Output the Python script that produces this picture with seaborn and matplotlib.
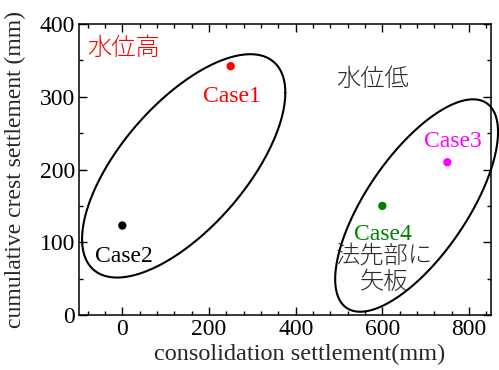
import numpy as np
import pandas as pd
import matplotlib
matplotlib.use("Agg")
import matplotlib.pyplot as plt
from matplotlib.ticker import MultipleLocator
import seaborn as sns

# Settlement results per case
cases = ["Case1", "Case2", "Case3", "Case4"]
consolidation = [250, 0, 750, 600]        # consolidation settlement (mm)
crest = [342, 123, 210, 150]              # cumulative crest settlement (mm)
case_colors = ["#ff0000", "#000000", "#ff00ff", "#008000"]

# Label positions (data units, baseline) for each case name
label_x = [253, 4, 762, 602]
label_y = [293, 73, 231, 103]

# Group outlines: centre, half-extent in x and y, and x-y coupling term
groups_center = [(141.6, 205.0), (679.0, 150.5)]
groups_extent = [(234.5, 153.5), (187.9, 146.0)]
groups_coupling = [23600.0, 19000.0]

sns.set_theme(style="ticks")
plt.rcParams["font.family"] = ["Liberation Serif", "Noto Sans CJK JP"]
plt.rcParams["xtick.direction"] = "in"
plt.rcParams["ytick.direction"] = "in"
plt.rcParams["xtick.top"] = True
plt.rcParams["ytick.right"] = True

df = pd.DataFrame({"case": cases, "x": consolidation, "y": crest})

fig = plt.figure(figsize=(4.99, 3.70), dpi=100)
ax = fig.add_axes([0.1583, 0.1486, 0.9834 - 0.1583, 0.9351 - 0.1486])

sns.scatterplot(data=df, x="x", y="y", hue="case", palette=case_colors,
                s=36, edgecolor="none", legend=False, ax=ax, zorder=3)

# Group outlines
t = np.linspace(0, 2 * np.pi, 400)
for (cx, cy), (rx, ry), c in zip(groups_center, groups_extent, groups_coupling):
    a21 = c / rx
    a22 = np.sqrt(ry ** 2 - a21 ** 2)
    ex = cx + rx * np.cos(t)
    ey = cy + a21 * np.cos(t) + a22 * np.sin(t)
    ax.plot(ex, ey, color="black", lw=1.5, clip_on=False, zorder=2)

for name, lx, ly, col in zip(cases, label_x, label_y, case_colors):
    ax.text(lx, ly, name, color=col, fontsize=17, ha="center", va="baseline")

jp_font = ["Noto Sans CJK JP", "Liberation Serif"]
jp_kw = dict(fontsize=17.5, va="center", family=jp_font, fontweight="light")
ax.text(-81, 367, "水位高", color="#ff0000", ha="left", **jp_kw)
ax.text(578, 324, "水位低", color="#2a2a2a", ha="center", **jp_kw)
ax.text(605, 80, "法先部に", color="#2a2a2a", ha="center", **jp_kw)
ax.text(603, 45, "矢板", color="#2a2a2a", ha="center", **jp_kw)

ax.set_xlim(-100, 850)
ax.set_ylim(0, 400)
ax.xaxis.set_major_locator(MultipleLocator(200))
ax.xaxis.set_minor_locator(MultipleLocator(40))
ax.yaxis.set_major_locator(MultipleLocator(100))
ax.yaxis.set_minor_locator(MultipleLocator(50))
ax.tick_params(which="major", length=5.5, width=1.0, labelsize=17, pad=3,
               colors="black")
ax.tick_params(which="minor", length=3, width=1.0, colors="black")
for sp in ax.spines.values():
    sp.set_linewidth(1.1)
    sp.set_color("black")

ax.set_xlabel("consolidation settlement(mm)", fontsize=17.5)
ax.set_ylabel("cumulative crest settlement (mm)", fontsize=17)
ax.xaxis.set_label_coords(0.5 + 15 / 411.7, -0.1)
ax.yaxis.set_label_coords(-0.128, 0.5)

fig.savefig("out.png", dpi=100)
